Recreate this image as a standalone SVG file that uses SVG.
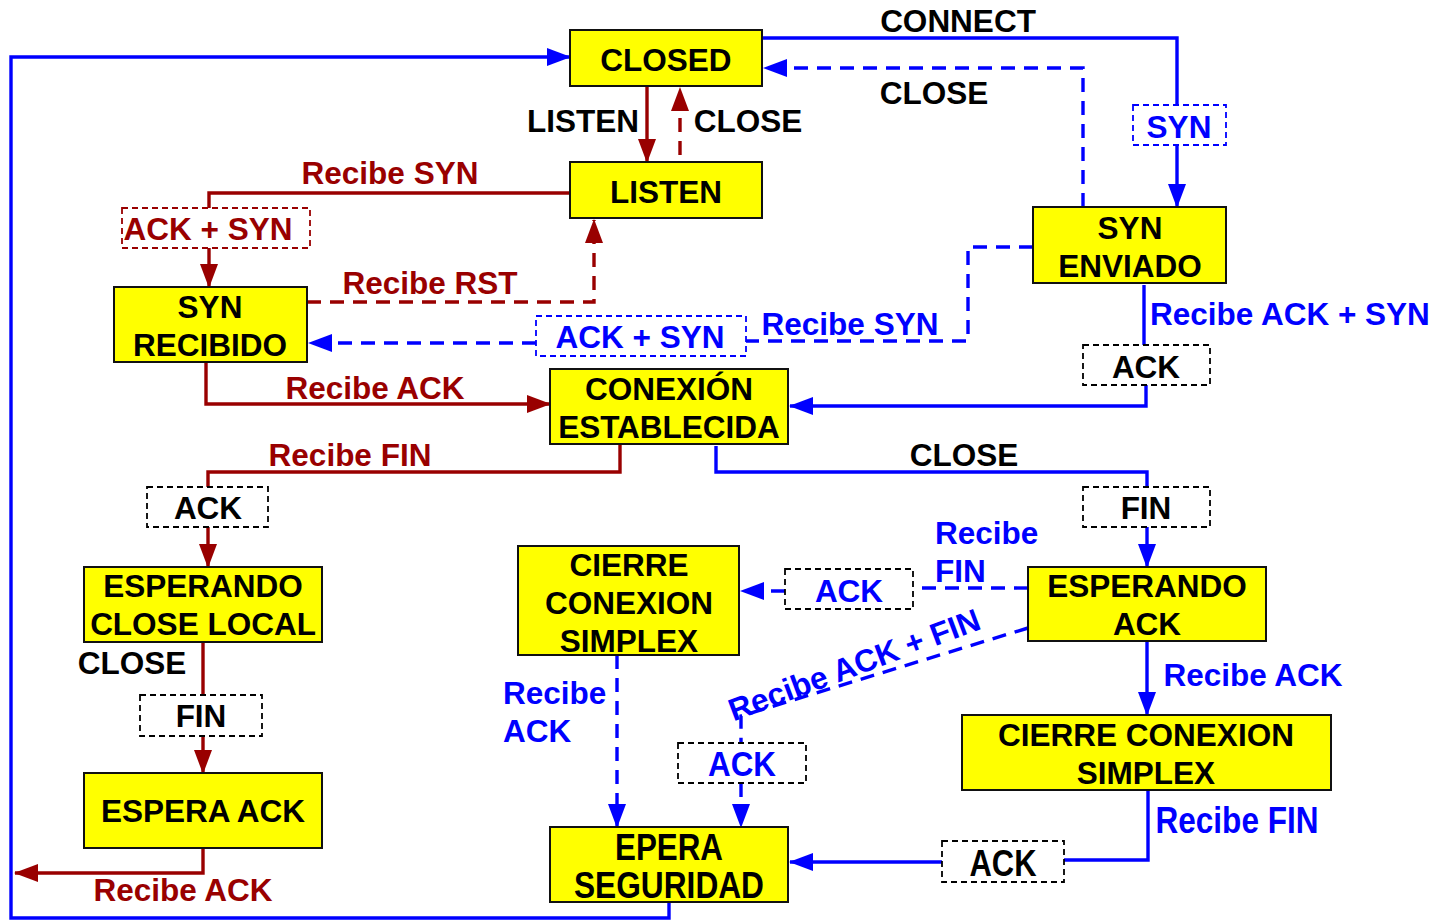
<svg xmlns="http://www.w3.org/2000/svg" width="1433" height="922" viewBox="0 0 1433 922">
<defs>
<style>
text{font-family:"Liberation Sans",Arial,sans-serif;font-weight:bold;font-size:31.5px}
.c{text-anchor:middle}
.k{fill:#000}
.r{fill:#990000}
.bl{fill:#0000ff}
.node rect{fill:#ffff00;stroke:#111;stroke-width:2}
.lb{fill:none;stroke-width:1.8;stroke-dasharray:6 4}
.cb,.cbd{fill:none;stroke:#0000ff;stroke-width:3.4}
.cr,.crd{fill:none;stroke:#990000;stroke-width:3.4}
.cbd,.crd{stroke-dasharray:14 9}
</style>
<marker id="ab" markerUnits="userSpaceOnUse" markerWidth="24" markerHeight="18" viewBox="0 0 24 18" refX="23" refY="9" orient="auto"><path d="M0,0 L24,9 L0,18 z" fill="#0000ff"/></marker>
<marker id="ar" markerUnits="userSpaceOnUse" markerWidth="24" markerHeight="18" viewBox="0 0 24 18" refX="23" refY="9" orient="auto"><path d="M0,0 L24,9 L0,18 z" fill="#990000"/></marker>
</defs>
<rect width="1433" height="922" fill="#fff"/>

<g id="connectors">
<path class="cb" d="M762,38 H1177 V105"/>
<path class="cb" d="M1177,145 V207" marker-end="url(#ab)"/>
<path class="cb" d="M1144,285 V345"/>
<path class="cb" d="M1146,385 V406 H790" marker-end="url(#ab)"/>
<path class="cb" d="M716,446 V472 H1147 V487"/>
<path class="cb" d="M1147,527 V567" marker-end="url(#ab)"/>
<path class="cb" d="M1147,641 V715" marker-end="url(#ab)"/>
<path class="cb" d="M1148,790 V860 H1064"/>
<path class="cb" d="M942,862 H790" marker-end="url(#ab)"/>
<path class="cb" d="M669,902 V918 H11 V57 H570" marker-end="url(#ab)"/>
<path class="cbd" d="M1083,207 V68 H764" marker-end="url(#ab)"/>
<path class="cbd" d="M1033,247 H968 V341 H746"/>
<path class="cbd" d="M536,343 H309" marker-end="url(#ab)"/>
<path class="cbd" d="M1028,588 H913"/>
<path class="cbd" d="M785,591 H741" marker-end="url(#ab)"/>
<path class="cbd" d="M1028,628 L741,716 V743"/>
<path class="cbd" d="M741,783 V827" marker-end="url(#ab)"/>
<path class="cbd" d="M617,655 V827" marker-end="url(#ab)"/>
<path class="cr" d="M647,86 V162" marker-end="url(#ar)"/>
<path class="cr" d="M570,193 H209 V208"/>
<path class="cr" d="M209,248 V287" marker-end="url(#ar)"/>
<path class="cr" d="M206,362 V404 H550" marker-end="url(#ar)"/>
<path class="cr" d="M620,444 V472 H208 V487"/>
<path class="cr" d="M208,527 V567" marker-end="url(#ar)"/>
<path class="cr" d="M203,642 V695"/>
<path class="cr" d="M203,736 V773" marker-end="url(#ar)"/>
<path class="cr" d="M203,848 V873 H15" marker-end="url(#ar)"/>
<path class="crd" d="M680,155 V88" marker-end="url(#ar)"/>
<path class="crd" d="M307,302 H594 V220" marker-end="url(#ar)"/>
</g>

<g id="labels">
<rect class="lb" x="1133" y="105" width="93" height="40" stroke="#0000ff"/>
<rect class="lb" x="122" y="208" width="188" height="40" stroke="#990000"/>
<rect class="lb" x="536" y="316" width="210" height="40" stroke="#0000ff"/>
<rect class="lb" x="1083" y="345" width="127" height="40" stroke="#000"/>
<rect class="lb" x="147" y="487" width="121" height="40" stroke="#000"/>
<rect class="lb" x="1083" y="487" width="127" height="40" stroke="#000"/>
<rect class="lb" x="785" y="569" width="128" height="40" stroke="#000"/>
<rect class="lb" x="140" y="695" width="122" height="41" stroke="#000"/>
<rect class="lb" x="678" y="743" width="128" height="40" stroke="#000"/>
<rect class="lb" x="942" y="841" width="122" height="41" stroke="#000"/>

<text class="c k" x="958" y="32">CONNECT</text>
<text class="c k" x="934" y="104">CLOSE</text>
<text class="c k" x="583" y="132">LISTEN</text>
<text class="c k" x="748" y="132">CLOSE</text>
<text class="c bl" x="1179" y="138">SYN</text>
<text class="c r" x="390" y="184">Recibe SYN</text>
<text class="c r" x="208" y="240">ACK + SYN</text>
<text class="c r" x="430" y="294">Recibe RST</text>
<text class="bl" x="1150" y="325">Recibe ACK + SYN</text>
<text class="c bl" x="850" y="335">Recibe SYN</text>
<text class="c bl" x="640" y="348">ACK + SYN</text>
<text class="c k" x="1146" y="378">ACK</text>
<text class="c r" x="375" y="399">Recibe ACK</text>
<text class="c r" x="350" y="466">Recibe FIN</text>
<text class="c k" x="964" y="466">CLOSE</text>
<text class="c k" x="208" y="519">ACK</text>
<text class="c k" x="1146" y="519">FIN</text>
<text class="bl" x="935" y="544">Recibe</text>
<text class="bl" x="935" y="582">FIN</text>
<text class="c bl" x="849" y="602">ACK</text>
<text class="c k" x="132" y="674">CLOSE</text>
<text class="c bl" x="1253" y="686">Recibe ACK</text>
<text class="bl" x="503" y="704">Recibe</text>
<text class="bl" x="503" y="742">ACK</text>
<text class="c k" x="201" y="727">FIN</text>
<text class="c bl" transform="translate(858,675) rotate(-20.5)">Recibe ACK + FIN</text>
<text class="c bl" x="742" y="776" style="font-size:35px" textLength="68" lengthAdjust="spacingAndGlyphs">ACK</text>
<text class="c bl" x="1237" y="833" style="font-size:36px" textLength="163" lengthAdjust="spacingAndGlyphs">Recibe FIN</text>
<text class="c k" x="1003" y="876" style="font-size:36px" textLength="67" lengthAdjust="spacingAndGlyphs">ACK</text>
<text class="c r" x="183" y="901">Recibe ACK</text>
</g>

<g id="closed" class="node"><rect x="570" y="30" width="192" height="56"/><text class="c k" x="666" y="71">CLOSED</text></g>
<g id="listen" class="node"><rect x="570" y="162" width="192" height="56"/><text class="c k" x="666" y="203">LISTEN</text></g>
<g id="syn-enviado" class="node"><rect x="1033" y="207" width="193" height="76"/><text class="c k" x="1130" y="239">SYN</text><text class="c k" x="1130" y="277">ENVIADO</text></g>
<g id="syn-recibido" class="node"><rect x="114" y="287" width="193" height="75"/><text class="c k" x="210" y="318">SYN</text><text class="c k" x="210" y="356">RECIBIDO</text></g>
<g id="conexion-establecida" class="node"><rect x="550" y="369" width="238" height="75"/><text class="c k" x="669" y="400">CONEXIÓN</text><text class="c k" x="669" y="438">ESTABLECIDA</text></g>
<g id="esperando-close-local" class="node"><rect x="84" y="567" width="238" height="75"/><text class="c k" x="203" y="597">ESPERANDO</text><text class="c k" x="203" y="635">CLOSE LOCAL</text></g>
<g id="espera-ack" class="node"><rect x="84" y="773" width="238" height="75"/><text class="c k" x="203" y="822">ESPERA ACK</text></g>
<g id="cierre-simplex-left" class="node"><rect x="518" y="546" width="221" height="109"/><text class="c k" x="629" y="576">CIERRE</text><text class="c k" x="629" y="614">CONEXION</text><text class="c k" x="629" y="652">SIMPLEX</text></g>
<g id="esperando-ack" class="node"><rect x="1028" y="567" width="238" height="74"/><text class="c k" x="1147" y="597">ESPERANDO</text><text class="c k" x="1147" y="635">ACK</text></g>
<g id="cierre-simplex-right" class="node"><rect x="962" y="715" width="369" height="75"/><text class="c k" x="1146" y="746">CIERRE CONEXION</text><text class="c k" x="1146" y="784">SIMPLEX</text></g>
<g id="epera-seguridad" class="node"><rect x="550" y="827" width="238" height="75"/><text class="c k" x="669" y="860" style="font-size:37px" textLength="108" lengthAdjust="spacingAndGlyphs">EPERA</text><text class="c k" x="669" y="898" style="font-size:37px" textLength="190" lengthAdjust="spacingAndGlyphs">SEGURIDAD</text></g>
</svg>
